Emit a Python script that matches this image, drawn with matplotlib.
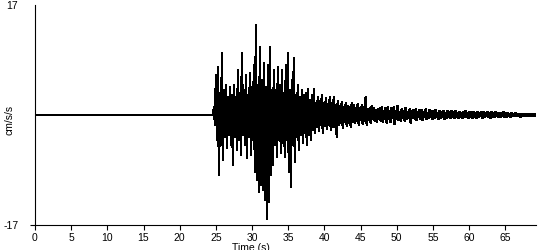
import matplotlib.pyplot as plt
import numpy as np

# record settings (s)
t_onset = 24.6
dt = 0.138

# positive peaks, one every 2*dt after onset (cm/s/s)
peaks_up = [
    1.2, 6.2, 7.4, 3.4, 9.6, 3.9, 4.6, 2.8, 4.3, 3.1,
    4.6, 2.8, 7.0, 3.4, 9.6, 3.9, 6.2, 3.1, 6.5, 4.3,
    7.7, 13.9, 4.6, 10.5, 5.4, 8.0, 4.3, 7.7, 10.5, 3.9,
    7.0, 3.9, 7.4, 4.6, 7.0, 3.4, 7.7, 9.6, 3.9, 5.4,
    8.8, 3.1, 4.6, 2.8, 3.9, 3.1, 3.4, 4.0, 2.3, 3.1,
    4.0, 1.9, 2.8, 2.2, 3.1, 1.9, 2.6, 1.7, 2.8, 1.9,
    2.8, 1.5, 2.2, 1.4, 2.0, 1.2, 1.9, 1.4, 1.2, 1.9,
    1.5, 1.1, 1.7, 1.0, 1.5, 1.2, 2.8, 0.9, 1.1, 1.4,
    1.1, 0.8, 0.9, 1.1, 1.2, 0.6, 1.1, 1.2, 0.6, 1.1,
    1.2, 0.6, 1.4, 0.5, 0.9, 0.6, 1.1, 0.5, 0.9, 0.6,
    0.8, 0.9, 0.5, 0.8, 0.8, 0.5, 0.9, 0.3, 0.8, 0.6,
    0.6, 0.8, 0.3, 0.6, 0.5, 0.6, 0.3, 0.6, 0.5, 0.6,
    0.5, 0.6, 0.3, 0.5, 0.3, 0.5, 0.6, 0.3, 0.5, 0.5,
    0.5, 0.3, 0.5, 0.3, 0.5, 0.5, 0.3, 0.5, 0.3, 0.5,
    0.3, 0.5, 0.3, 0.3, 0.3, 0.5, 0.3, 0.3, 0.15, 0.3,
    0.15, 0.3, 0.15, 0.15, 0.15, 0.15, 0.15, 0.15, 0.15, 0.15, 0.15, 0.15,
]

# negative peaks, between the positive ones (cm/s/s)
peaks_down = [
    -1.5, -3.9, -9.3, -4.6, -7.0, -3.4, -5.1, -3.1, -4.6, -7.7,
    -3.4, -5.4, -3.9, -6.2, -3.1, -4.6, -6.6, -3.4, -6.2, -3.9,
    -8.8, -10.0, -11.9, -10.8, -11.6, -13.1, -16.1, -13.4, -9.3, -7.7,
    -4.6, -6.5, -3.9, -5.9, -4.3, -6.5, -3.9, -8.8, -11.1, -4.6,
    -7.3, -3.4, -5.4, -3.1, -4.3, -2.8, -4.6, -3.1, -3.9, -2.3,
    -2.8, -1.9, -2.5, -1.5, -2.8, -1.7, -2.2, -1.5, -2.3, -1.9,
    -1.9, -3.4, -1.5, -1.2, -2.0, -1.1, -1.7, -1.2, -1.9, -1.1,
    -1.2, -0.9, -1.5, -0.8, -1.4, -0.9, -1.5, -0.8, -1.2, -0.6,
    -0.9, -1.1, -0.6, -0.9, -1.1, -0.6, -1.2, -0.6, -1.1, -0.5,
    -1.4, -0.6, -0.8, -0.9, -0.5, -0.9, -0.6, -0.5, -1.2, -0.5,
    -0.6, -0.8, -0.3, -0.6, -0.8, -0.3, -0.6, -0.5, -0.3, -0.6,
    -0.5, -0.3, -0.6, -0.5, -0.3, -0.6, -0.5, -0.3, -0.5, -0.3,
    -0.5, -0.3, -0.5, -0.3, -0.5, -0.3, -0.3, -0.5, -0.3, -0.5,
    -0.3, -0.5, -0.3, -0.15, -0.5, -0.3, -0.15, -0.3, -0.5, -0.3,
    -0.3, -0.15, -0.3, -0.3, -0.15, -0.3, -0.3, -0.15, -0.3, -0.15,
    -0.15, -0.15, -0.15, -0.3, -0.15, -0.15, -0.15, -0.15, -0.15, -0.15, -0.15, -0.15,
]

x_ticks = [0, 5, 10, 15, 20, 25, 30, 35, 40, 45, 50, 55, 60, 65]
y_ticks = [-17, 17]


def main():
    plt.rcParams["font.family"] = ["Liberation Sans", "DejaVu Sans"]

    # positive/negative peaks interleaved after the onset
    acc = np.empty(2 * len(peaks_up))
    acc[0::2] = peaks_up
    acc[1::2] = peaks_down
    t = t_onset + dt * np.arange(1, len(acc) + 1)
    t = np.concatenate([[t_onset], t])
    acc = np.concatenate([[0.0], acc])

    fig = plt.figure(figsize=(5.5, 2.5), dpi=100)
    ax = fig.add_axes([0.0636, 0.1, 0.911, 0.88])
    ax.plot(t, acc, color="black", linewidth=1.0, antialiased=False)
    # quiet part before the onset
    ax.plot([0, t_onset], [0, 0], color="black", linewidth=1.2, antialiased=False)

    ax.set_xlim(0, 69.25)
    ax.set_ylim(-17, 17)
    ax.set_xticks(x_ticks)
    ax.set_yticks(y_ticks)
    ax.set_yticklabels(["-17", "17"])
    ax.spines["top"].set_visible(False)
    ax.spines["right"].set_visible(False)
    ax.spines["left"].set_linewidth(0.8)
    ax.spines["bottom"].set_linewidth(0.8)
    ax.tick_params(axis="x", direction="out", length=3.6, width=0.8, pad=2.5, labelsize=7.5)
    ax.tick_params(axis="y", direction="out", length=3.6, width=0.8, pad=8.5, labelsize=7.5)
    ax.yaxis.get_major_ticks()[1].tick1line.set_visible(False)

    ax.set_xlabel("Time (s)", fontsize=7.5)
    ax.xaxis.set_label_coords(0.431, -0.08)
    ax.set_ylabel("cm/s/s", fontsize=7.5)
    ax.yaxis.set_label_coords(-0.04, 0.477)

    fig.savefig("out.png", dpi=100)
    plt.close(fig)


if __name__ == "__main__":
    main()
